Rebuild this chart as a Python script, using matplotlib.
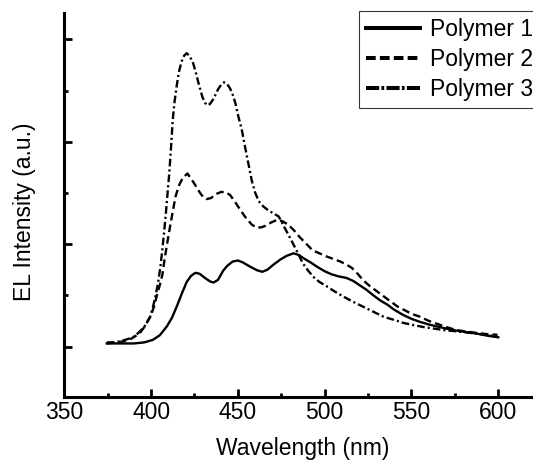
import matplotlib
matplotlib.use("Agg")
import matplotlib.pyplot as plt
from matplotlib.ticker import MultipleLocator, NullFormatter

plt.rcParams['font.family'] = ['Liberation Sans', 'DejaVu Sans']
plt.rcParams['lines.scale_dashes'] = False

# ---- data ----
wl1 = [374.5, 382, 390, 396, 401, 405, 409, 412, 415, 418, 420.5, 423, 425.5, 428, 431,
       434, 436, 438.5, 441.5, 444, 447, 450, 453, 457, 461, 464, 467, 470.5, 474.5, 478,
       482, 485, 488, 492, 495.5, 500, 504, 508, 512.5, 516.5, 520, 524, 528, 532, 536,
       540, 545, 550, 555, 560, 565, 570, 576, 582, 588, 594, 600]
int1 = [0.03, 0.03, 0.03, 0.04, 0.065, 0.11, 0.195, 0.28, 0.40, 0.53, 0.63, 0.69, 0.72, 0.71, 0.67,
        0.635, 0.625, 0.65, 0.74, 0.79, 0.83, 0.84, 0.82, 0.78, 0.745, 0.73, 0.75, 0.80, 0.85, 0.885,
        0.91, 0.895, 0.86, 0.82, 0.78, 0.735, 0.705, 0.685, 0.67, 0.64, 0.60, 0.555, 0.50, 0.45, 0.41,
        0.36, 0.31, 0.27, 0.24, 0.215, 0.195, 0.175, 0.155, 0.14, 0.125, 0.105, 0.09]

wl2 = [374.5, 380, 384, 389, 393.5, 396.5, 399.5, 401.5, 403.2, 405, 406.5, 408, 409.5, 411,
       412.5, 414, 416, 418, 420.9, 423, 425.3, 428.2, 430, 432, 434.5, 437.5, 440.5, 443,
       445.5, 448, 450, 454, 458, 461, 463.7, 466, 469, 473, 476, 479, 482, 485.5, 489, 493,
       497, 501, 505, 509, 512.5, 515.5, 519, 522, 526, 530, 534, 538, 542, 546, 550, 555,
       560, 565, 570, 576, 582, 589, 594, 599.5]
int2 = [0.03, 0.04, 0.05, 0.08, 0.13, 0.20, 0.29, 0.38, 0.49, 0.60, 0.70, 0.88, 1.03, 1.18,
        1.32, 1.46, 1.57, 1.64, 1.69, 1.64, 1.58, 1.50, 1.46, 1.44, 1.45, 1.49, 1.51, 1.505,
        1.48, 1.42, 1.37, 1.27, 1.19, 1.16, 1.165, 1.18, 1.21, 1.24, 1.22, 1.19, 1.14, 1.07, 1.01, 0.94,
        0.91, 0.88, 0.855, 0.83, 0.80, 0.77, 0.71, 0.65, 0.59, 0.54, 0.49, 0.44, 0.39, 0.355, 0.32, 0.29,
        0.25, 0.22, 0.19, 0.16, 0.145, 0.13, 0.12, 0.115]

wl3 = [374.5, 378, 382, 386, 389.5, 392.5, 396, 399.4, 401, 402.5, 404, 405.3, 406.5, 407.5,
       408.5, 409.5, 410.5, 411.5, 412.5, 413.5, 414.7, 416, 417.5, 419, 420.5, 422, 424, 426,
       427.5, 429.5, 431, 432.5, 434, 436, 438.5, 440.5, 442, 443.5, 445.5, 447, 448.5, 450.2,
       452.2, 454.1, 456, 458, 460, 462, 464.5, 467.5, 470.5, 473.5, 476, 478.5, 481, 484,
       487.5, 490.5, 493.5, 497, 501, 505.5, 510.5, 516, 522, 528, 534, 540, 545.5, 551, 557,
       563, 569, 575, 582, 588, 594, 599.5]
int3 = [0.04, 0.04, 0.05, 0.07, 0.09, 0.13, 0.19, 0.29, 0.38, 0.49, 0.62, 0.77, 0.95, 1.12,
        1.30, 1.50, 1.70, 1.95, 2.22, 2.39, 2.54, 2.68, 2.78, 2.84, 2.865, 2.84, 2.78, 2.66,
        2.56, 2.44, 2.38, 2.355, 2.37, 2.42, 2.51, 2.56, 2.58, 2.57, 2.52, 2.46, 2.38, 2.25,
        2.12, 1.95, 1.79, 1.62, 1.50, 1.42, 1.37, 1.33, 1.30, 1.27, 1.19, 1.11, 1.03, 0.93,
        0.81, 0.74, 0.68, 0.63, 0.59, 0.54, 0.49, 0.44, 0.39, 0.34, 0.29, 0.26, 0.23, 0.21, 0.19,
        0.175, 0.16, 0.15, 0.137, 0.125, 0.11, 0.10]

labels = ["Polymer 1", "Polymer 2", "Polymer 3"]
xticks = [350, 400, 450, 500, 550, 600]

W, H = 533, 461
fig = plt.figure(figsize=(W / 100, H / 100), dpi=100)
left_px, bottom_px, top_px = 64.3, 396.7, 12.7
ax_w_px = 300 * 1.736
ax = fig.add_axes([left_px / W, (H - bottom_px) / H, ax_w_px / W, (bottom_px - top_px) / H])

lw = 1.7
dash2 = (0, (5.5, 3.0))
dash3 = (0, (5.5, 2.2, 1.5, 2.2))
ax.plot(wl1, int1, color='black', lw=lw, linestyle='-', label=labels[0])
ax.plot(wl2, int2, color='black', lw=lw, linestyle=dash2, label=labels[1])
ax.plot(wl3, int3, color='black', lw=lw, linestyle=dash3, label=labels[2])

ax.set_xlim(350, 650)
ax.set_ylim(-0.49, 3.26)

ax.spines['top'].set_visible(False)
ax.spines['right'].set_visible(False)
ax.spines['left'].set_linewidth(2.2)
ax.spines['bottom'].set_linewidth(2.2)

ax.xaxis.set_major_locator(MultipleLocator(50))
ax.xaxis.set_minor_locator(MultipleLocator(25))
ax.yaxis.set_major_locator(MultipleLocator(1.0))
ax.yaxis.set_minor_locator(MultipleLocator(0.5))
ax.yaxis.set_major_formatter(NullFormatter())
ax.set_xticks(xticks)
ax.set_xticklabels([str(t) for t in xticks])

ax.tick_params(axis='both', which='major', direction='in', length=5.5, width=2.0,
               labelsize=16.5, pad=3)
ax.tick_params(axis='both', which='minor', direction='in', length=3, width=2.0)

fig.text(303 / W, 1.0 / H, "Wavelength (nm)", ha='center', va='bottom', fontsize=16.5)
fig.text(25 / W, 1 - 212 / H, "EL Intensity (a.u.)", ha='center', va='center',
         rotation=90, fontsize=16.5)

leg = ax.legend(loc='upper left', bbox_to_anchor=(359 / W, 1 - 11 / H),
                bbox_transform=fig.transFigure, fontsize=16.5, frameon=True,
                fancybox=False, shadow=False, borderaxespad=0, borderpad=0.3,
                handlelength=2.36, handletextpad=0.45, labelspacing=0.31)
leg.get_frame().set_edgecolor('black')
leg.get_frame().set_linewidth(0.8)
leg_lines = leg.get_lines()
leg_lines[0].set_linewidth(2.9)
leg_lines[1].set_linewidth(2.9)
leg_lines[1].set_linestyle((0, (7.0, 3.0)))
leg_lines[2].set_linewidth(2.9)
leg_lines[2].set_linestyle((0, (9.5, 1.6, 2.0, 1.6)))

fig.savefig("out.png", dpi=100)
